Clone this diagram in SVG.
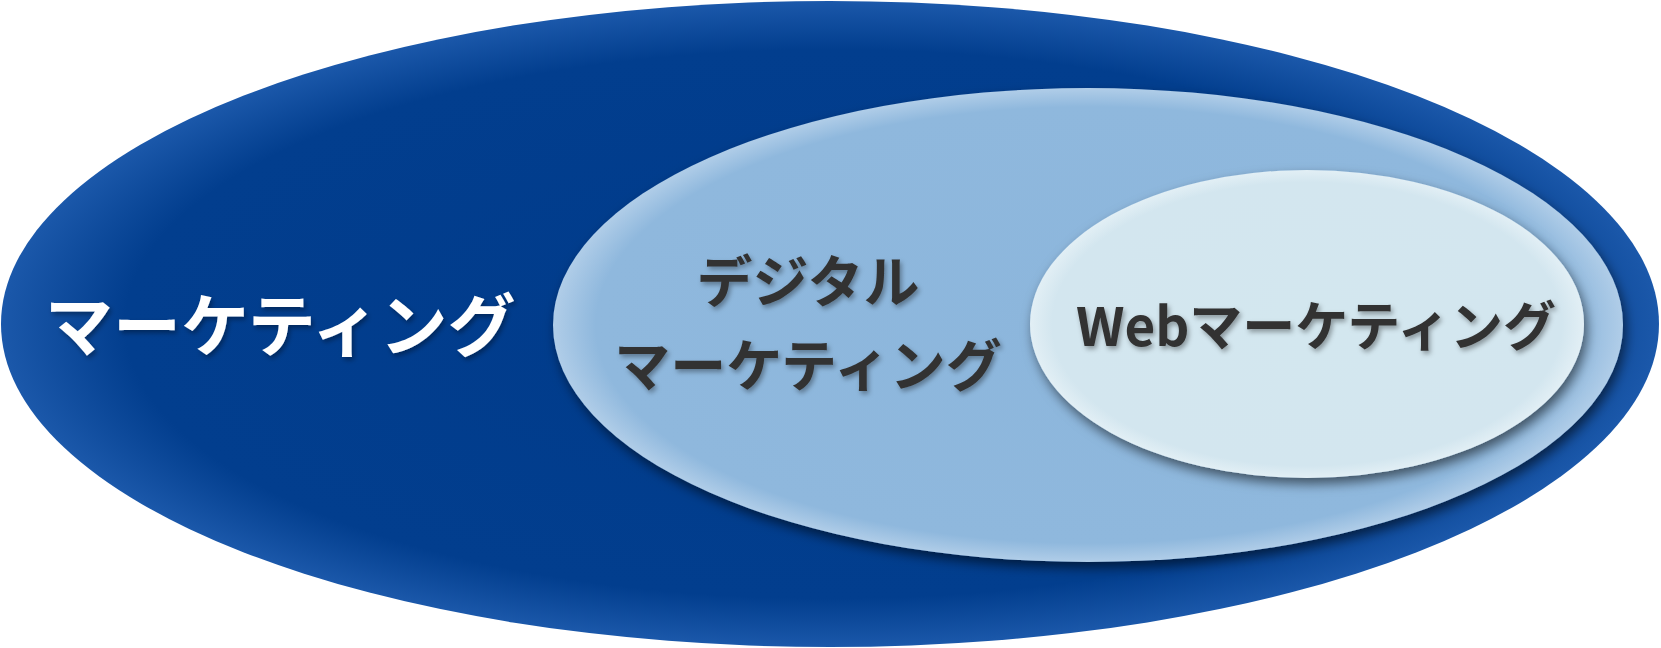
<svg xmlns="http://www.w3.org/2000/svg" width="1661" height="648" viewBox="0 0 1661 648">
<defs>
<radialGradient id="gOuter" cx="0.5" cy="0.5" r="0.5">
<stop offset="0" stop-color="#003b8b"/>
<stop offset="0.85" stop-color="#023e8e"/>
<stop offset="1" stop-color="#1b58aa"/>
</radialGradient>
<radialGradient id="gMid" cx="0.5" cy="0.5" r="0.5">
<stop offset="0" stop-color="#8cb6dc"/>
<stop offset="0.92" stop-color="#8fb8dd"/>
<stop offset="1" stop-color="#b0cde8"/>
</radialGradient>
<radialGradient id="gIn" cx="0.5" cy="0.5" r="0.5">
<stop offset="0" stop-color="#d3e7ef"/>
<stop offset="0.92" stop-color="#d3e6ef"/>
<stop offset="1" stop-color="#e2eff5"/>
</radialGradient>
<filter id="shadow" x="-10%" y="-10%" width="125%" height="130%">
<feDropShadow dx="3" dy="6" stdDeviation="6" flood-color="#000" flood-opacity="0.55"/>
</filter>
<filter id="tshadow" x="-10%" y="-20%" width="125%" height="150%">
<feDropShadow dx="2" dy="3" stdDeviation="2.5" flood-color="#000" flood-opacity="0.35"/>
</filter>
</defs>
<style>
text { font-family: "Noto Sans CJK JP", "Noto Sans", sans-serif; font-weight: 700; }
.w { fill: #ffffff; }
.d { fill: #333333; }
</style>
<g id="marketing">
<ellipse cx="830" cy="324" rx="829" ry="323" fill="url(#gOuter)"/>
<text class="w" x="45" y="351" font-size="68" filter="url(#tshadow)">マーケティング</text>
</g>
<g id="digital">
<ellipse cx="1088" cy="325" rx="535" ry="237" fill="url(#gMid)" filter="url(#shadow)"/>
<text class="d" x="808" y="302" font-size="56" text-anchor="middle" filter="url(#tshadow)">デジタル</text>
<text class="d" x="808" y="386" font-size="56" text-anchor="middle" filter="url(#tshadow)">マーケティング</text>
</g>
<g id="web">
<ellipse cx="1307" cy="324" rx="277" ry="154" fill="url(#gIn)" filter="url(#shadow)"/>
<text class="d" x="1316" y="346" font-size="53" text-anchor="middle" filter="url(#tshadow)">Webマーケティング</text>
</g>
<g id="connectors"/>
</svg>
